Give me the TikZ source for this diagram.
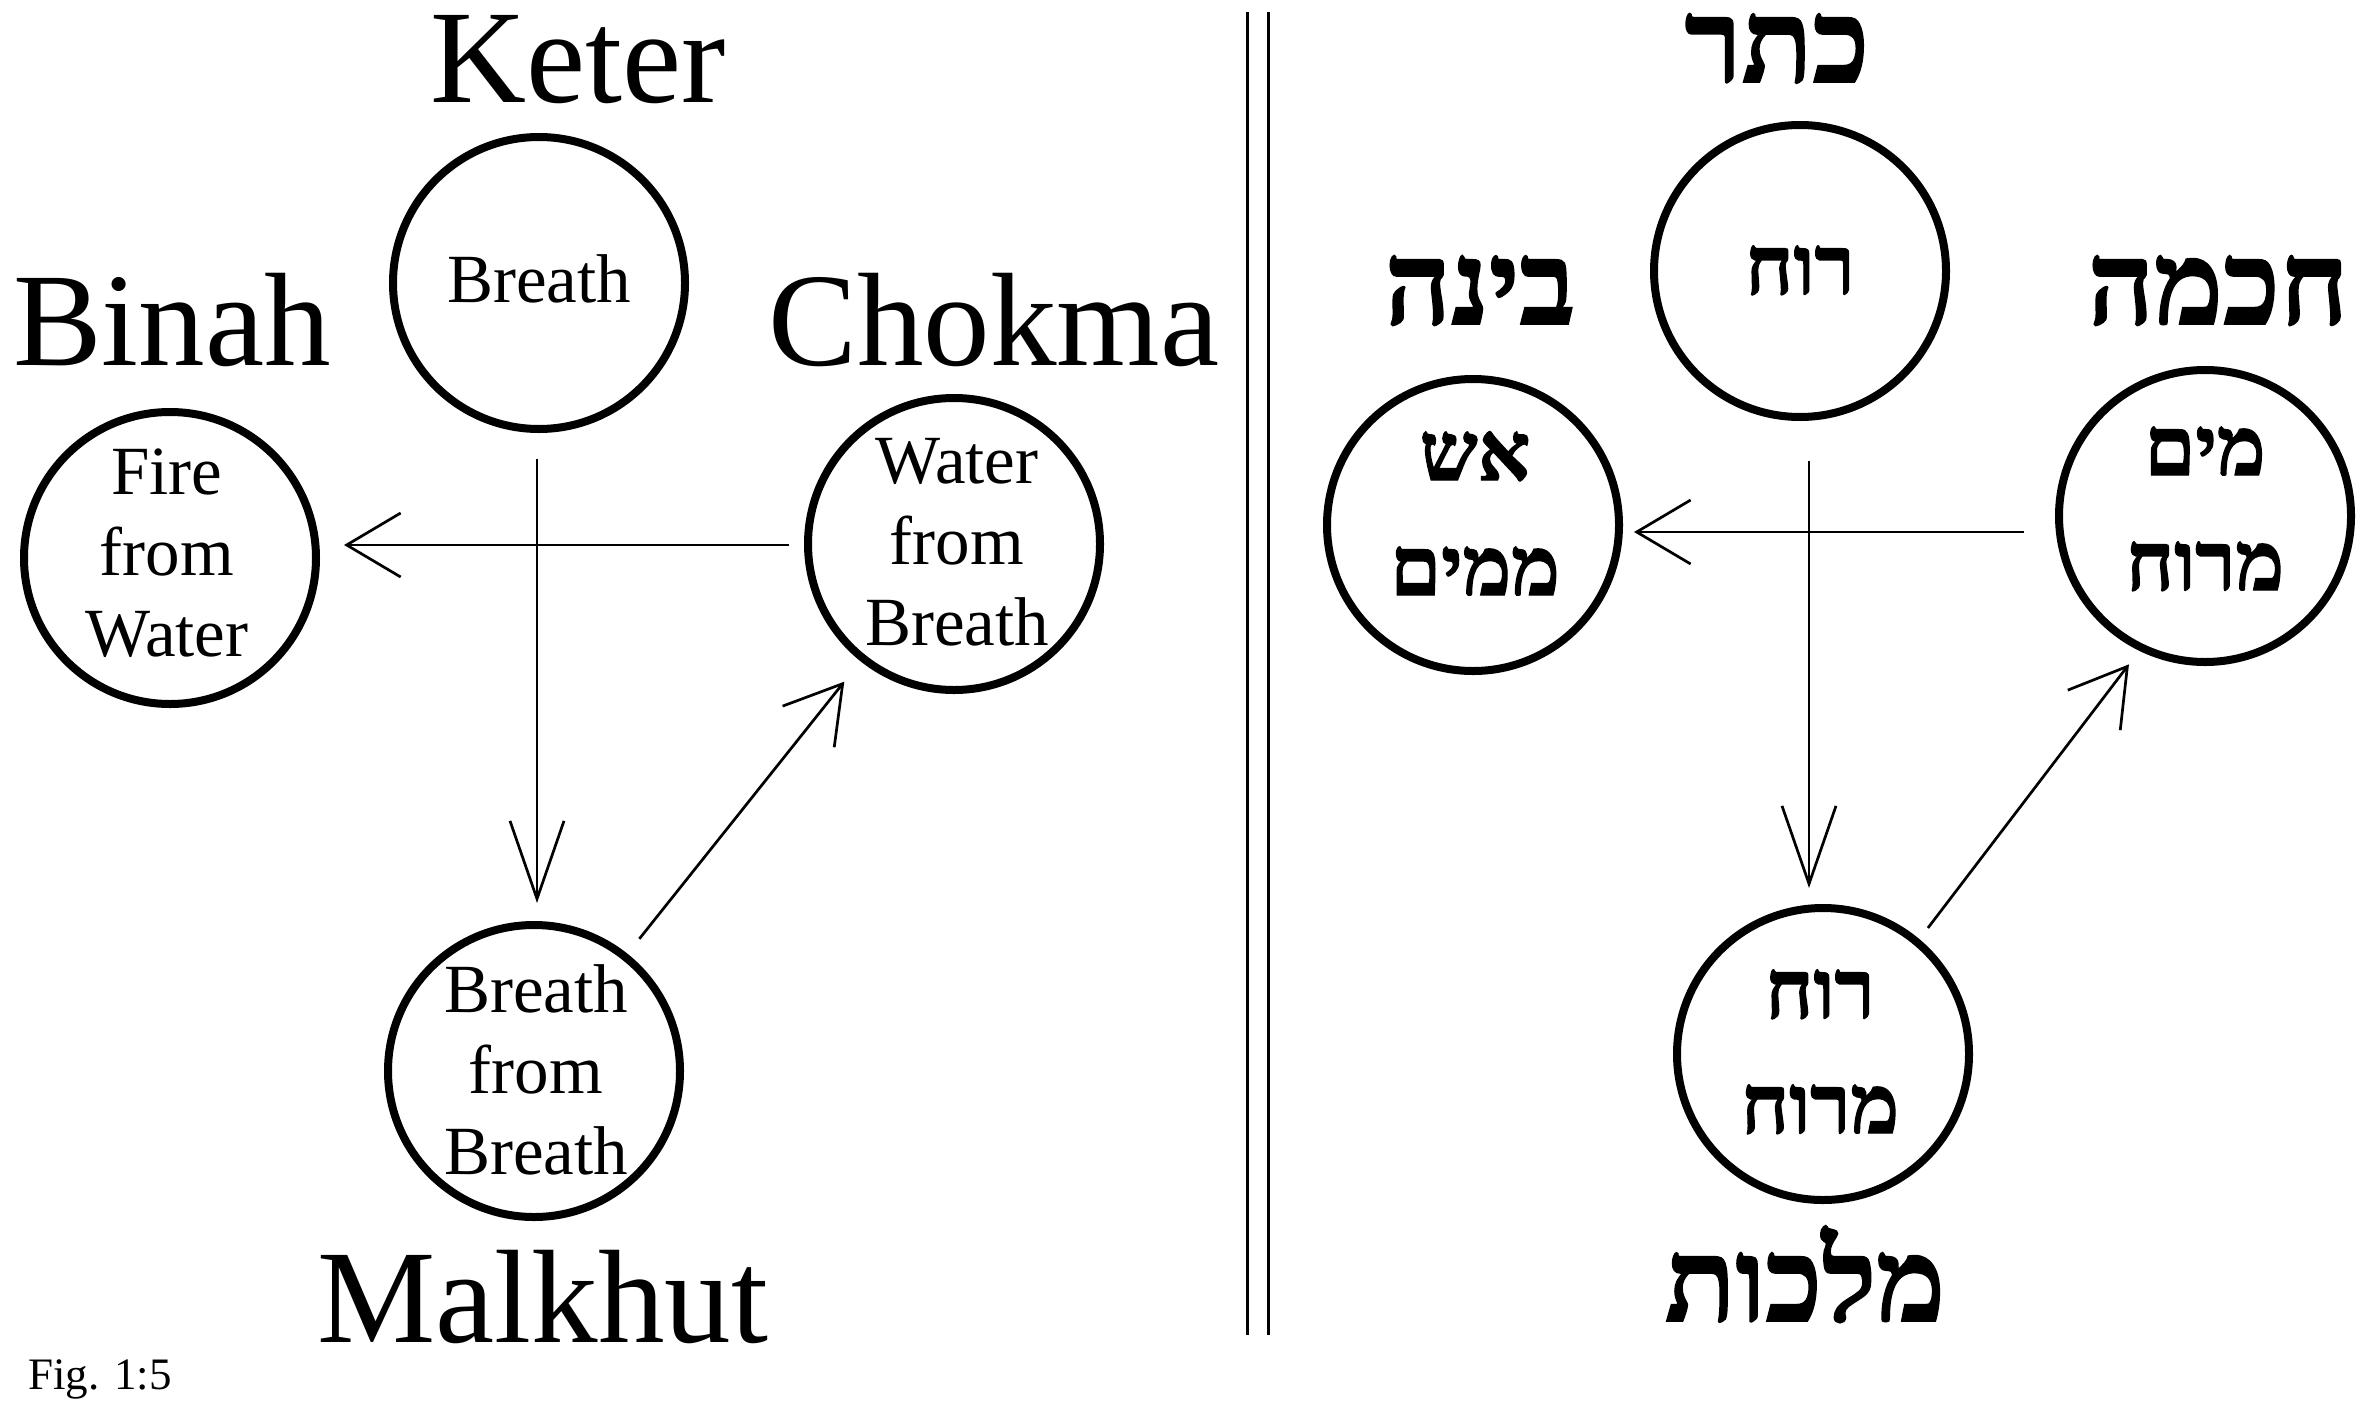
\documentclass[tikz,border=0pt]{standalone}
\usepackage{fontspec}
\setmainfont{Liberation Serif}
\newfontfamily\hebfont[Script=Hebrew,FakeBold=1.6]{Liberation Serif Bold}
\TeXXeTstate=1
\usetikzlibrary{arrows.meta}
\newcommand{\stackc}[1]{\vtop{\halign{\hfil##\hfil\cr#1\crcr}}}
\tikzset{
  sefira/.style={circle, draw, line width=8pt, minimum size=292pt, inner sep=0pt},
  lattitle/.style={anchor=base, inner sep=0pt, font=\fontsize{133}{160}\selectfont},
  latin/.style={anchor=base, inner sep=0pt, font=\fontsize{69}{81}\selectfont},
  hebtitle/.style={anchor=base, inner sep=0pt, text height=72pt, font=\hebfont\fontsize{116}{130}\selectfont},
  hebin/.style={anchor=base, inner sep=0pt, font=\hebfont\fontsize{82}{115}\selectfont},
  conn/.style={line width=2.7pt},
  varrow/.style={conn, -{Straight Barb[length=78pt, width=54pt]}},
  harrow/.style={conn, -{Straight Barb[length=54pt, width=64pt]}},
  darrow/.style={conn, -{Straight Barb[length=55pt, width=66pt]}},
  divider/.style={line width=3pt}
}
\begin{document}
\begin{tikzpicture}[x=1pt, y=-1pt]
  \fill[white] (0,0) rectangle (2376,1400);
  \useasboundingbox (0,0) rectangle (2376,1400);

  % ---------- left (English) ----------
  \node[sefira] (kc) at (539,283) {};
  \node[sefira] (bc) at (170,558) {};
  \node[sefira] (cc) at (954,544) {};
  \node[sefira] (mc) at (534,1071) {};

  \node[lattitle] (keter) at (578,102) {Keter};
  \node[lattitle] (binah) at (172,365) {Binah};
  \node[lattitle] (chokma) at (994,365) {Chokma};
  \node[lattitle] (malkhut) at (543,1342) {Malkhut};

  \node[latin] (kt) at (539,302) {Breath};
  \node[latin] (bt) at (167,494) {\stackc{Fire\cr from\cr Water}};
  \node[latin] (ct) at (957,483) {\stackc{Water\cr from\cr Breath}};
  \node[latin] (mt) at (536,1012) {\stackc{Breath\cr from\cr Breath}};

  \node[anchor=base west, inner sep=0pt, font=\fontsize{45}{54}\selectfont] (fig) at (28,1389) {Fig. 1:5};

  \draw[varrow, shorten <=26pt, shorten >=18pt] ([xshift=-2pt]kc.south) -- ([xshift=3pt]mc.north);
  \draw[harrow, shorten <=15pt, shorten >=24pt] ([yshift=-1pt]cc.west) -- ([yshift=-1pt]cc.west -| bc.east);
  \draw[darrow, shorten <=19pt, shorten >=26pt] (mc) -- (cc);

  % ---------- divider ----------
  \coordinate (d1t) at (1247,12);
  \coordinate (d1b) at (1247,1335);
  \coordinate (d2t) at (1268,12);
  \coordinate (d2b) at (1268,1335);
  \draw[divider] (d1t) -- (d1b);
  \draw[divider] (d2t) -- (d2b);

  % ---------- right (Hebrew) ----------
  \node[sefira] (hk) at (1800,271) {};
  \node[sefira] (hb) at (1473,525) {};
  \node[sefira] (hc) at (2205,516) {};
  \node[sefira] (hm) at (1823,1054) {};

  \node[hebtitle] (hketer) at (1777,82) {\beginR כתר\endR};
  \node[hebtitle] (hbinah) at (1480,324) {\beginR בינה\endR};
  \node[hebtitle] (hchokma) at (2218,324) {\beginR חכמה\endR};
  \node[hebtitle] (hmalkhut) at (1805,1321) {\beginR מלכות\endR};

  \node[hebin] (hkt) at (1800,294) {\beginR רוח\endR};
  \node[hebin] (hbt) at (1475,480) {\stackc{\beginR אש\endR\cr \beginR ממים\endR}};
  \node[hebin] (hct) at (2205,475) {\stackc{\beginR מים\endR\cr \beginR מרוח\endR}};
  \node[hebin] (hmt) at (1820,1018) {\stackc{\beginR רוח\endR\cr \beginR מרוח\endR}};

  \draw[varrow, shorten <=40pt, shorten >=16pt] ([xshift=9pt]hk.south) -- ([xshift=-14pt]hm.north);
  \draw[harrow, shorten <=31pt, shorten >=11pt] ([yshift=-16pt]hc.west) -- ([yshift=-16pt]hc.west -| hb.east);
  \draw[darrow, shorten <=14pt, shorten >=17pt] (hm.50.7) -- (hc.244);
\end{tikzpicture}
\end{document}
